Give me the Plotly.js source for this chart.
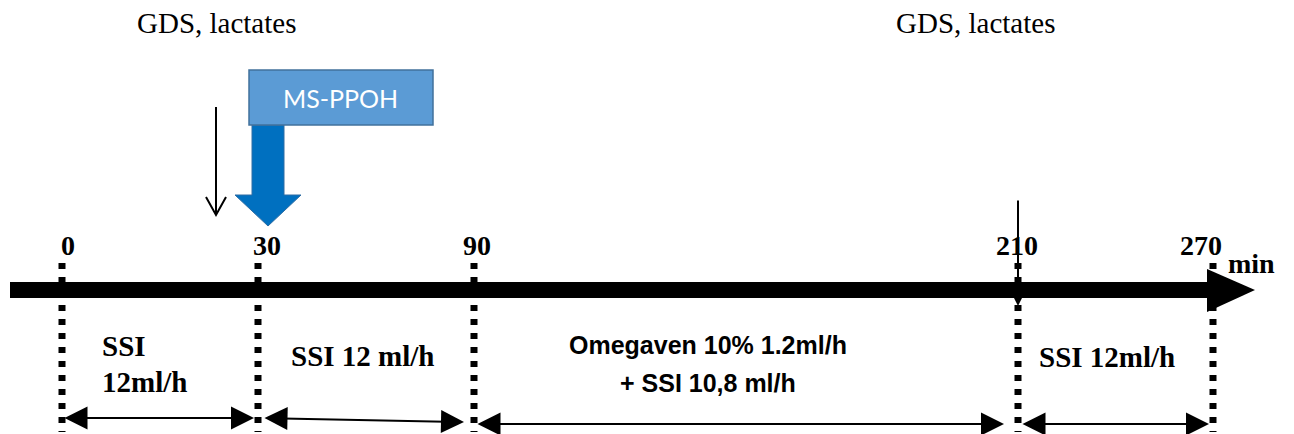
<!DOCTYPE html>
<html><head><meta charset="utf-8">
<script src="https://cdn.plot.ly/plotly-3.0.1.min.js"></script>
<style>html,body{margin:0;padding:0;background:#fff}#chart{width:1294px;height:434px}</style>
</head><body><div id="chart"></div>
<script>
// ---- content ----
const timePoints = ['0', '30', '90', '210', '270'];
const unitLabel = 'min';
const periodLabels = [['SSI', '12ml/h'], ['SSI 12 ml/h'], ['Omegaven 10% 1.2ml/h', '+ SSI 10,8 ml/h'], ['SSI 12ml/h']];
const samplingLabels = ['GDS, lactates', 'GDS, lactates'];
const drugLabel = 'MS-PPOH';

// ---- layout geometry (drawing units, y down) ----
const G = {
  tickX: [62, 258, 474, 1018, 1213],
  barY0: 282, barY1: 298, barX0: 10, headX0: 1207, headX1: 1255, headY0: 269, headY1: 312,
  dotY0: 263, dotY1: 432,
  labelY: 245,
  sampX: [216, 975], sampY: 23,
  periodX: [100, 362, 708, 1107],
  periodY: [[346, 382], [356], [345, 383], [357]],
  spanY: [[418, 418], [418, 422], [424, 424], [424, 424]],
  box: [249, 70, 433, 125], shaft: [252, 284], headBlue: [235, 301, 195, 226],
  thinArrowX: 216, thinArrowY: [107, 215],
  endArrowY: [199, 306]
};

const serif = 'Liberation Serif, Times New Roman, serif';
const sans = 'Liberation Sans, Arial, sans-serif';

const shapes = [];
const annotations = [];

// main bar + arrowhead
shapes.push({type: 'rect', xref: 'x', yref: 'y', x0: G.barX0, x1: G.headX0 + 2, y0: G.barY0, y1: G.barY1, fillcolor: '#000', line: {width: 0}});
shapes.push({type: 'path', xref: 'x', yref: 'y',
  path: `M${G.headX0},${G.headY0} L${G.headX1},${(G.barY0 + G.barY1) / 2} L${G.headX0},${G.headY1} Z`,
  fillcolor: '#000', line: {width: 0}});

// dotted verticals + time labels
timePoints.forEach((t, i) => {
  shapes.push({type: 'line', xref: 'x', yref: 'y', x0: G.tickX[i], x1: G.tickX[i], y0: G.dotY0, y1: G.dotY1,
    line: {color: '#000', width: 7, dash: '6px,8px'}});
});
const labelOffsets = [6, 9, 3, -1, -12];
timePoints.forEach((t, i) => {
  annotations.push({xref: 'x', yref: 'y', x: G.tickX[i] + labelOffsets[i], y: G.labelY, text: '<b>' + t + '</b>', showarrow: false,
    font: {family: serif, size: 28, color: '#000'}, xanchor: 'center', yanchor: 'middle'});
});
annotations.push({xref: 'x', yref: 'y', x: 1251, y: 263, text: '<b>' + unitLabel + '</b>', showarrow: false,
  font: {family: serif, size: 28, color: '#000'}, xanchor: 'center', yanchor: 'middle'});

// sampling labels
samplingLabels.forEach((s, i) => {
  annotations.push({xref: 'x', yref: 'y', x: G.sampX[i], y: G.sampY, text: s, showarrow: false,
    font: {family: serif, size: 29, color: '#000'}, xanchor: 'center', yanchor: 'middle'});
});

// period labels (one annotation per line)
periodLabels.forEach((lines, i) => {
  const isOmega = i === 2;
  lines.forEach((ln, j) => {
    annotations.push({xref: 'x', yref: 'y', x: G.periodX[i], y: G.periodY[i][j], text: '<b>' + ln + '</b>', showarrow: false,
      font: {family: isOmega ? sans : serif, size: isOmega ? 25 : 29, color: '#000'},
      xanchor: i === 0 ? 'left' : 'center', yanchor: 'middle'});
  });
});

// double-headed span arrows between time points
const spanEnds = [[G.tickX[0] + 1, G.tickX[1] - 4], [G.tickX[1] + 5, G.tickX[2] - 10], [G.tickX[2] + 2, G.tickX[3] - 14], [G.tickX[3] + 3, G.tickX[4] - 4]];
spanEnds.forEach((e, i) => {
  annotations.push({xref: 'x', yref: 'y', axref: 'x', ayref: 'y', x: e[1], y: G.spanY[i][1], ax: e[0], ay: G.spanY[i][0],
    text: '', showarrow: true, arrowhead: 2, startarrowhead: 2, arrowside: 'end+start', arrowsize: 2.3, startarrowsize: 2.3,
    arrowwidth: 2, arrowcolor: '#000', standoff: 0, startstandoff: 0});
});

// MS-PPOH box and blue arrow
shapes.push({type: 'path', xref: 'x', yref: 'y',
  path: `M${G.shaft[0]},${G.box[3]} L${G.shaft[1]},${G.box[3]} L${G.shaft[1]},${G.headBlue[2]} L${G.headBlue[1]},${G.headBlue[2]} L${(G.shaft[0] + G.shaft[1]) / 2},${G.headBlue[3]} L${G.headBlue[0]},${G.headBlue[2]} L${G.shaft[0]},${G.headBlue[2]} Z`,
  fillcolor: '#0070C0', line: {color: '#2E6DA4', width: 1}});
shapes.push({type: 'rect', xref: 'x', yref: 'y', x0: G.box[0], y0: G.box[1], x1: G.box[2], y1: G.box[3],
  fillcolor: '#5B9BD5', line: {color: '#41719C', width: 1.5}});
annotations.push({xref: 'x', yref: 'y', x: (G.box[0] + G.box[2]) / 2 - 1, y: (G.box[1] + G.box[3]) / 2, text: drugLabel, showarrow: false,
  font: {family: 'Lato, Open Sans, sans-serif', size: 25, color: '#fff'}, xanchor: 'center', yanchor: 'middle'});

// thin sampling arrow (open chevron)
const ta = G.thinArrowX, ty = G.thinArrowY;
shapes.push({type: 'path', xref: 'x', yref: 'y',
  path: `M${ta},${ty[0]} L${ta},${ty[1]} M${ta - 10},${ty[1] - 18} L${ta},${ty[1]} L${ta + 10},${ty[1] - 18}`,
  line: {color: '#000', width: 2}});

// thin line at 210 with small head
annotations.push({xref: 'x', yref: 'y', axref: 'x', ayref: 'y', x: G.tickX[3], y: G.endArrowY[1], ax: G.tickX[3], ay: G.endArrowY[0],
  text: '', showarrow: true, arrowhead: 2, arrowsize: 2.2, arrowwidth: 2, arrowcolor: '#000', standoff: 0});

const layout = {
  width: 1294, height: 434,
  margin: {l: 0, r: 0, t: 0, b: 0},
  paper_bgcolor: '#fff', plot_bgcolor: '#fff',
  showlegend: false,
  xaxis: {range: [0, 1294], visible: false, fixedrange: true},
  yaxis: {range: [434, 0], visible: false, fixedrange: true},
  shapes: shapes,
  annotations: annotations
};

Plotly.newPlot('chart', [{x: [], y: [], type: 'scatter', mode: 'markers', hoverinfo: 'skip'}], layout, {staticPlot: true});
</script>
</body></html>
